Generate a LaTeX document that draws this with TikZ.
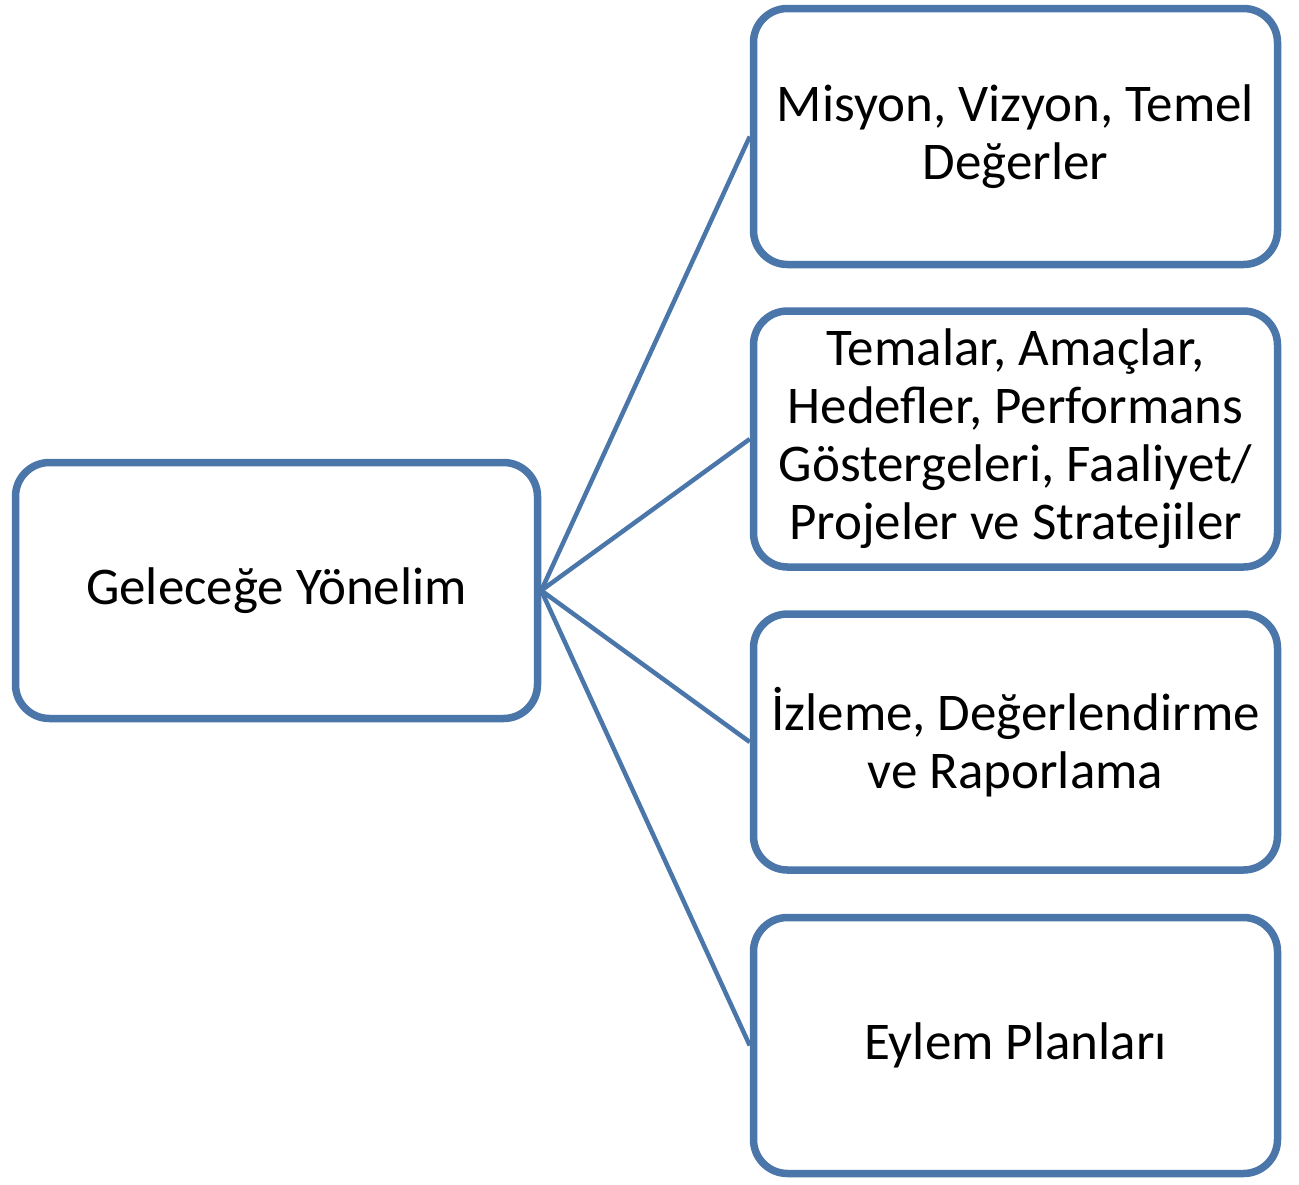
\documentclass[tikz,border=0pt]{standalone}
\usepackage{fontspec}
\setmainfont{Carlito}
\usetikzlibrary{shapes,arrows,positioning,calc,shadows}
\definecolor{boxblue}{RGB}{74,118,170}

\begin{document}
\begin{tikzpicture}[x=1pt,y=-1pt,
    planbox/.style={draw=boxblue, line width=7.5pt, rounded corners=34pt, fill=white,
        minimum width=524pt, minimum height=256pt, text width=515pt, align=center,
        font=\fontsize{53}{58}\selectfont,
        execute at begin node={\spaceskip=0.226em\relax},
        drop shadow={opacity=0.25, shadow xshift=2pt, shadow yshift=-3pt}},
    link/.style={draw=boxblue, line width=4.5pt}]
    \useasboundingbox (0,0) rectangle (1299,1184);

    % Left box
    \node[planbox, minimum width=522pt] (gelecek) at (276.5,590.5) {Geleceğe Yönelim};

    % Right boxes
    \node[planbox] (misyon) at (1015.5,136.5) {Misyon, Vizyon, Temel\\Değerler};
    \node[planbox] (temalar) at (1015.5,439) {Temalar, Amaçlar,\\Hedefler, Performans\\Göstergeleri, Faaliyet/\\Projeler ve Stratejiler};
    \node[planbox] (izleme) at (1015.5,742) {İzleme, Değerlendirme\\ve Raporlama};
    \node[planbox] (eylem) at (1015.5,1045.5) {Eylem Planları};

    % Connectors
    \foreach \n in {misyon,temalar,izleme,eylem} {
        \draw[link] (gelecek.east) -- (\n.west);
    }
\end{tikzpicture}
\end{document}
